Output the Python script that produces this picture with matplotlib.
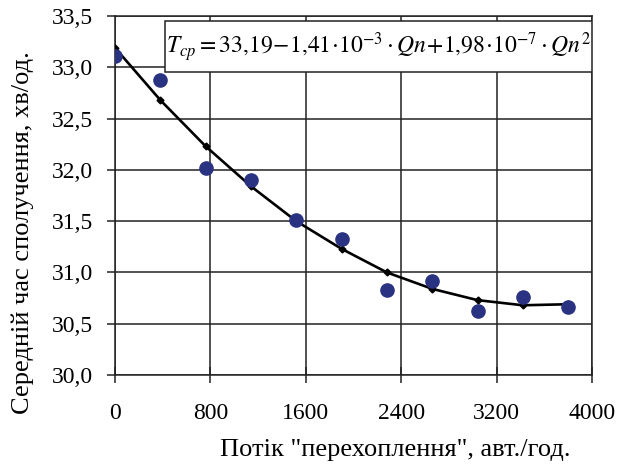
import matplotlib
matplotlib.use("Agg")
import matplotlib.pyplot as plt
from matplotlib.patches import Rectangle
from matplotlib.ticker import FuncFormatter

plt.rcParams['font.family'] = ['Liberation Serif', 'DejaVu Serif']
plt.rcParams['mathtext.fontset'] = 'stix'

# measured points
flow = [0, 380, 760, 1140, 1520, 1900, 2280, 2660, 3040, 3420, 3800]
time_obs = [33.11, 32.88, 32.02, 31.90, 31.51, 31.33, 30.83, 30.92, 30.62, 30.76, 30.66]
# trend line values at the same flows
time_fit = [33.19, 32.68, 32.23, 31.84, 31.50, 31.23, 31.00, 30.84, 30.73, 30.68, 30.69]

xticks = [0, 800, 1600, 2400, 3200, 4000]
yticks = [30.0, 30.5, 31.0, 31.5, 32.0, 32.5, 33.0, 33.5]

fig = plt.figure(figsize=(6.22, 4.65), dpi=100)
ax = fig.add_axes([0.1849, 0.1935, 0.7669, 0.7721])

ax.plot(flow, time_fit, color='black', linewidth=1.9, marker='D', markersize=3.5, zorder=3)
ax.plot(flow, time_obs, linestyle='none', marker='o', markersize=9.5,
        color='#2a3282', zorder=4)

ax.set_xlim(0, 4000)
ax.set_ylim(30.0, 33.5)
ax.set_xticks(xticks)
ax.set_yticks(yticks)
ax.yaxis.set_major_formatter(FuncFormatter(lambda v, p: ('%.1f' % v).replace('.', ',')))
ax.grid(True, color='#222222', linewidth=1.1)
ax.set_axisbelow(True)
for s in ax.spines.values():
    s.set_color('#222222')
    s.set_linewidth(1.1)

fs = 17
ax.tick_params(axis='x', direction='inout', length=12, width=1.1, labelsize=fs, pad=14, color='#222222')
ax.tick_params(axis='y', direction='out', length=6, width=1.1, labelsize=fs, pad=10, color='#222222')

ax.set_xlabel('Потік "перехоплення", авт./год.', fontsize=19)
ax.set_ylabel('Середній час сполучення, хв/од.', fontsize=19)
ax.xaxis.set_label_coords(0.587, -0.178)
ax.yaxis.set_label_coords(-0.170, 0.398)

# equation box
ax.add_patch(Rectangle((0.105, 0.845), 0.895, 0.142, transform=ax.transAxes,
                       fc='white', ec='#222222', lw=1.1, zorder=5))
eq = (r'$T_{cp} = 33{,}19\!-\!1{,}41\!\cdot\!10^{-3}\cdot Qn\!+\!1{,}98\!\cdot\!10^{-7}\cdot Qn^2$')
ax.text(0.5525, 0.912, eq, transform=ax.transAxes, ha='center', va='center', fontsize=17,
        zorder=6)

fig.savefig('out.png', dpi=100)
